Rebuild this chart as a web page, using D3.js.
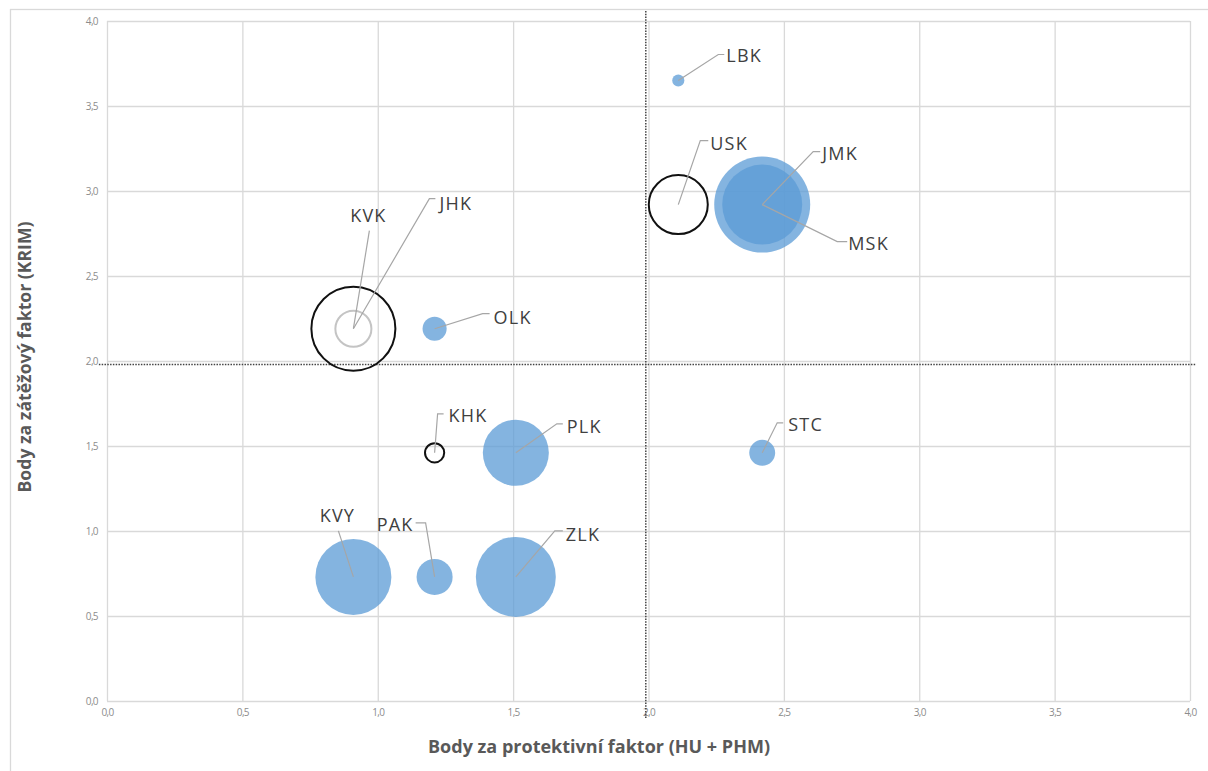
<!DOCTYPE html>
<html>
<head>
<meta charset="utf-8">
<script src="https://cdn.jsdelivr.net/npm/d3@7"></script>
<style>
  html, body { margin: 0; padding: 0; background: #fff; }
  svg { display: block; }
</style>
</head>
<body>
<svg id="chart" width="1208" height="771"></svg>
<script>
// Regions (kraje): protective-factor score (x), burden-factor score (y), bubble size
const regions = ["LBK", "USK", "JMK", "MSK", "KVK", "JHK", "OLK", "KHK", "PLK", "STC", "ZLK", "PAK", "KVY"];
const protectiveScore = [2.11, 2.11, 2.42, 2.42, 0.91, 0.91, 1.21, 1.21, 1.51, 2.42, 1.51, 1.21, 0.91];
const burdenScore     = [3.65, 2.92, 2.92, 2.92, 2.19, 2.19, 2.19, 1.46, 1.46, 1.46, 0.73, 0.73, 0.73];
const bubbleSize      = [1.6, 37.8, 100, 69.4, 76.6, 14.1, 6.3, 4.0, 47.3, 7.3, 69.4, 14.1, 62.7];

// Axis ticks
const tickValues = [0, 0.5, 1, 1.5, 2, 2.5, 3, 3.5, 4];

// Quadrant divider lines (x = const, y = const) and their extents
const dividerX = 1.99;
const dividerXExtent = [-0.1, 4.06];
const dividerY = 1.98;
const dividerYExtent = [-0.03, 4.02];

const xTitle = "Body za protektivní faktor (HU + PHM)";
const yTitle = "Body za zátěžový faktor (KRIM)";

const data = regions.map((name, i) => ({
  name, x: protectiveScore[i], y: burdenScore[i], size: bubbleSize[i]
}));

// --- drawing ---
const svg = d3.select("#chart");
const W = 1208, H = 771;
const plot = { left: 107, right: 1190, top: 21, bottom: 701 };

const x = d3.scaleLinear().domain([0, 4]).range([plot.left, plot.right]);
const y = d3.scaleLinear().domain([0, 4]).range([plot.bottom, plot.top]);
const r = d3.scaleSqrt().domain([0, 100]).range([0, 48]);

const locale = d3.formatLocale({ decimal: ",", thousands: " ", grouping: [3], currency: ["", " Kč"] });
const fmt = locale.format(".1f");

const gridColor = "#d9d9d9";
const tickFont = "'Open Sans', sans-serif";

// chart frame
svg.append("rect")
  .attr("x", 10.5).attr("y", 9.5)
  .attr("width", W + 20).attr("height", H + 20)
  .attr("fill", "none").attr("stroke", gridColor).attr("stroke-width", 1.3);

// gridlines + tick labels
const yAxis = svg.append("g")
  .attr("transform", `translate(${plot.left},0)`)
  .call(d3.axisLeft(y).tickValues(tickValues).tickFormat(fmt)
    .tickSize(-(plot.right - plot.left)).tickPadding(9));
const xAxis = svg.append("g")
  .attr("transform", `translate(0,${plot.bottom})`)
  .call(d3.axisBottom(x).tickValues(tickValues).tickFormat(fmt)
    .tickSize(-(plot.bottom - plot.top)).tickPadding(8));

[xAxis, yAxis].forEach(g => {
  g.select(".domain").remove();
  g.selectAll(".tick line").attr("stroke", gridColor).attr("stroke-width", 1.3);
  g.selectAll(".tick text")
    .attr("fill", "#8c8c8c")
    .style("font-family", tickFont)
    .style("font-size", "10px")
    .style("letter-spacing", "-0.6px");
});

// quadrant dividers
const dotted = svg.append("g")
  .attr("stroke", "#444").attr("stroke-width", 1.5)
  .attr("stroke-dasharray", "1.5 1.3").attr("fill", "none");
dotted.append("line")
  .attr("x1", x(dividerX)).attr("x2", x(dividerX))
  .attr("y1", y(dividerXExtent[0])).attr("y2", y(dividerXExtent[1]));
dotted.append("line")
  .attr("x1", x(dividerYExtent[0])).attr("x2", x(dividerYExtent[1]))
  .attr("y1", y(dividerY)).attr("y2", y(dividerY));

// bubble appearance: filled, black ring or grey ring
const blackRing = new Set(["USK", "KVK", "KHK"]);
const greyRing = new Set(["JHK"]);

const bubbles = svg.append("g");
bubbles.selectAll("circle")
  .data(data.slice().sort((a, b) => b.size - a.size))
  .join("circle")
  .attr("cx", d => x(d.x))
  .attr("cy", d => y(d.y))
  .attr("r", d => r(d.size))
  .attr("fill", d => (blackRing.has(d.name) || greyRing.has(d.name)) ? "none" : "#5b9bd5")
  .attr("fill-opacity", 0.75)
  .attr("stroke", d => blackRing.has(d.name) ? "#111" : greyRing.has(d.name) ? "#c4c4c4" : "none")
  .attr("stroke-width", 2);

// data-label placement: leader polyline (relative to bubble centre) and text anchor
const labelLayout = {
  LBK: { pts: [[40, -26], [46, -26]], t: [48, -25], anchor: "start" },
  USK: { pts: [[22, -64], [30, -64]], t: [32, -61], anchor: "start" },
  JMK: { pts: [[51, -53], [58, -53]], t: [60, -51], anchor: "start" },
  MSK: { pts: [[75, 37], [85, 37]], t: [86, 39], anchor: "start" },
  KVK: { pts: [[16, -98]], t: [15, -113], anchor: "middle" },
  JHK: { pts: [[76, -130], [82, -130]], t: [86, -125], anchor: "start" },
  OLK: { pts: [[48, -15], [55, -15]], t: [59, -11], anchor: "start" },
  KHK: { pts: [[3, -39], [9, -39]], t: [14, -37], anchor: "start" },
  PLK: { pts: [[41, -29], [47, -29]], t: [51, -26], anchor: "start" },
  STC: { pts: [[15, -30], [21, -30]], t: [26, -28], anchor: "start" },
  ZLK: { pts: [[39, -46], [47, -46]], t: [50, -42], anchor: "start" },
  PAK: { pts: [[-9, -54], [-19, -54]], t: [-21, -52], anchor: "end" },
  KVY: { pts: [[-15, -46]], t: [-16, -61], anchor: "middle" }
};

const labels = svg.append("g");
const line = d3.line();
data.forEach(d => {
  const L = labelLayout[d.name];
  const cx = x(d.x), cy = y(d.y);
  const pts = [[cx, cy]].concat(L.pts.map(p => [cx + p[0], cy + p[1]]));
  labels.append("path")
    .attr("d", line(pts))
    .attr("fill", "none")
    .attr("stroke", "#a6a6a6")
    .attr("stroke-width", 1.2);
  labels.append("text")
    .attr("x", cx + L.t[0]).attr("y", cy + L.t[1])
    .attr("dy", "0.36em")
    .attr("text-anchor", L.anchor)
    .attr("fill", "#404040")
    .style("font-family", "'Open Sans', sans-serif")
    .style("font-size", "18px")
    .style("letter-spacing", "1.2px")
    .text(d.name);
});

// axis titles
svg.append("text")
  .attr("x", 599).attr("y", 747)
  .attr("dy", "0.35em")
  .attr("text-anchor", "middle")
  .attr("textLength", 342)
  .attr("lengthAdjust", "spacingAndGlyphs")
  .attr("fill", "#595959")
  .style("font-family", "'Open Sans', sans-serif")
  .style("font-weight", 700)
  .style("font-size", "17px")
  .text(xTitle);

svg.append("text")
  .attr("transform", "translate(25,357) rotate(-90)")
  .attr("dy", "0.35em")
  .attr("text-anchor", "middle")
  .attr("textLength", 271)
  .attr("lengthAdjust", "spacingAndGlyphs")
  .attr("fill", "#595959")
  .style("font-family", "'Open Sans', sans-serif")
  .style("font-weight", 700)
  .style("font-size", "17px")
  .text(yTitle);
</script>
</body>
</html>
